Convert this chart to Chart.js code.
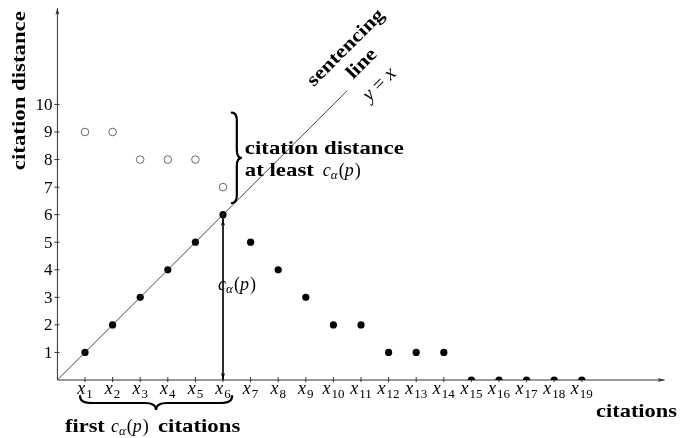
<!DOCTYPE html>
<html><head><meta charset="utf-8">
<script src="https://cdn.jsdelivr.net/npm/chart.js@4"></script>
<style>html,body{margin:0;padding:0;background:#fff}#w{width:680px;height:438px}</style>
</head><body><div id="w"><canvas id="c" width="680" height="438"></canvas></div>
<script>
// ---- data ----
const citationIndex = [1,2,3,4,5,6,7,8,9,10,11,12,13,14,15,16,17,18,19];
const citationDistance = [1,2,3,4,5,6,5,4,3,2,2,1,1,1,0,0,0,0,0];
const earlyIndex = [1,2,3,4,5,6];
const earlyDistance = [9,9,8,8,8,7];
const yTicks = [1,2,3,4,5,6,7,8,9,10];
const yTickLabels = ['1','2','3','4','5','6','7','8','9','10'];
const xTickLabels = ['1','2','3','4','5','6','7','8','9','10','11','12','13','14','15','16','17','18','19'];
const hIndex = 6;            // c_alpha(p)
const sentencingLineEnd = 10.5;

const SERIF = '"Liberation Serif", "DejaVu Serif", serif';

function rich(ctx, x, y, parts, align){
  let w = 0;
  parts.forEach(p => { ctx.font = p[1]; w += ctx.measureText(p[0]).width + (p[3]||0); });
  let cx = align === 'center' ? x - w/2 : align === 'right' ? x - w : x;
  ctx.textAlign = 'left'; ctx.textBaseline = 'alphabetic';
  parts.forEach(p => { ctx.font = p[1]; ctx.fillText(p[0], cx, y + (p[2]||0)); cx += ctx.measureText(p[0]).width + (p[3]||0); });
}
function stretched(ctx, x, y, sx, fn){ ctx.save(); ctx.translate(x,y); ctx.scale(sx,1); fn(); ctx.restore(); }
function calpha(size){
  return [['c','italic '+size+'px '+SERIF,0],['α','italic '+Math.round(size*0.72)+'px '+SERIF,3,1],['(',size+'px '+SERIF,0],['p','italic '+size+'px '+SERIF,0,1],[')',size+'px '+SERIF,0]];
}
function brace(ctx, ax, ay, bx, by, depth){
  const L = Math.hypot(bx-ax, by-ay);
  const ang = Math.atan2(by-ay, bx-ax);
  const h = depth/2, r = Math.min(depth*0.8, L/6);
  ctx.save(); ctx.translate(ax, ay); ctx.rotate(ang);
  ctx.beginPath();
  ctx.moveTo(0,0);
  ctx.quadraticCurveTo(0,h, r,h);
  ctx.lineTo(L/2-r,h);
  ctx.quadraticCurveTo(L/2,h, L/2,2*h);
  ctx.quadraticCurveTo(L/2,h, L/2+r,h);
  ctx.lineTo(L-r,h);
  ctx.quadraticCurveTo(L,h, L,0);
  ctx.lineWidth = 2.2; ctx.strokeStyle = '#000'; ctx.lineCap='round'; ctx.stroke();
  ctx.restore();
}
function arrowHead(ctx, x, y, dir, len, wid){
  ctx.save(); ctx.translate(x,y); ctx.rotate(dir);
  ctx.beginPath(); ctx.moveTo(0,0); ctx.lineTo(-len, -wid/2); ctx.lineTo(-len*0.75,0); ctx.lineTo(-len, wid/2); ctx.closePath();
  ctx.fill(); ctx.restore();
}

const axesPlugin = {
  id: 'axes',
  beforeDatasetsDraw(chart){
    const {ctx, scales:{x, y}} = chart;
    const ox = x.getPixelForValue(0), oy = y.getPixelForValue(0);
    const xr = x.getPixelForValue(x.max), yt = y.getPixelForValue(y.max);
    ctx.save();
    ctx.strokeStyle = '#333'; ctx.fillStyle = '#333'; ctx.lineWidth = 1;
    ctx.beginPath(); ctx.moveTo(ox, oy); ctx.lineTo(xr, oy); ctx.moveTo(ox, oy); ctx.lineTo(ox, yt); ctx.stroke();
    arrowHead(ctx, xr, oy, 0, 7, 4);
    arrowHead(ctx, ox, yt, -Math.PI/2, 7, 4);
    ctx.beginPath();
    citationIndex.forEach(v => { const px = x.getPixelForValue(v); ctx.moveTo(px, oy-3); ctx.lineTo(px, oy+2); });
    yTicks.forEach(v => { const py = y.getPixelForValue(v); ctx.moveTo(ox-3, py); ctx.lineTo(ox+2, py); });
    ctx.stroke();
    ctx.fillStyle = '#000';
    yTicks.forEach((v,i) => { ctx.font = '17px '+SERIF; ctx.textAlign='right'; ctx.textBaseline='middle'; ctx.fillText(yTickLabels[i], ox-5, y.getPixelForValue(v)+1); });
    citationIndex.forEach((v,i) => rich(ctx, x.getPixelForValue(v), oy+14, [['x','italic 18px '+SERIF,0,1],[xTickLabels[i],'13px '+SERIF,4]], 'center'));
    ctx.restore();
  },
  afterDatasetsDraw(chart){
    const {ctx, scales:{x, y}} = chart;
    const ox = x.getPixelForValue(0), oy = y.getPixelForValue(0);
    ctx.save(); ctx.fillStyle = '#000';
    const hx = x.getPixelForValue(hIndex);
    arrowHead(ctx, hx, y.getPixelForValue(hIndex)+4, -Math.PI/2, 7, 4);
    arrowHead(ctx, hx, oy, Math.PI/2, 7, 4);
    rich(ctx, hx+14, y.getPixelForValue(3)-7, calpha(18), 'center');
    // axis titles
    ctx.save(); ctx.translate(25, y.getPixelForValue(10.5)); ctx.rotate(-Math.PI/2); ctx.scale(1.2,1);
    ctx.font = 'bold 19px '+SERIF; ctx.textAlign='center'; ctx.textBaseline='alphabetic'; ctx.fillText('citation distance', 0, 0); ctx.restore();
    stretched(ctx, 677, oy+37, 1.18, () => { ctx.font='bold 19px '+SERIF; ctx.textAlign='right'; ctx.fillText('citations',0,0); });
    // bottom brace + text
    brace(ctx, x.getPixelForValue(0.82), oy+16, x.getPixelForValue(6.33), oy+16, 14);
    stretched(ctx, 65, oy+52, 1.18, () => { ctx.font='bold 19px '+SERIF; ctx.textAlign='left'; ctx.fillText('first',0,0); });
    rich(ctx, 111, oy+52, calpha(18), 'left');
    stretched(ctx, 158, oy+52, 1.2, () => { ctx.font='bold 19px '+SERIF; ctx.textAlign='left'; ctx.fillText('citations',0,0); });
    // right brace + text
    const bx = x.getPixelForValue(6.32);
    brace(ctx, bx, y.getPixelForValue(6.42), bx, y.getPixelForValue(9.7), 10);
    stretched(ctx, bx+13, y.getPixelForValue(8.24)+1, 1.2, () => { ctx.font='bold 19px '+SERIF; ctx.textAlign='left'; ctx.fillText('citation distance',0,0); });
    stretched(ctx, bx+13, y.getPixelForValue(7.44)+1, 1.2, () => { ctx.font='bold 19px '+SERIF; ctx.textAlign='left'; ctx.fillText('at least',0,0); });
    rich(ctx, bx+91, y.getPixelForValue(7.44)+1, calpha(18), 'left');
    // rotated sentencing line labels
    const rot = (cx, cy, fn) => { ctx.save(); ctx.translate(cx, cy); ctx.rotate(-Math.PI/4); fn(); ctx.restore(); };
    rot(346, 48, () => { ctx.scale(1.18,1); ctx.font='bold 19px '+SERIF; ctx.textAlign='center'; ctx.textBaseline='middle'; ctx.fillText('sentencing',0,0); });
    rot(362, 64, () => { ctx.scale(1.18,1); ctx.font='bold 19px '+SERIF; ctx.textAlign='center'; ctx.textBaseline='middle'; ctx.fillText('line',0,0); });
    rot(379, 84, () => { rich(ctx, 0, 6, [['y','italic 20px '+SERIF,0,5],['=','20px '+SERIF,0,5],['x','italic 20px '+SERIF,0]], 'center'); });
    ctx.restore();
  }
};

new Chart(document.getElementById('c'), {
  type: 'scatter',
  data: {
    datasets: [
      { type:'line', data:[{x:0,y:0},{x:sentencingLineEnd,y:sentencingLineEnd}], borderColor:'#333', borderWidth:0.9, pointRadius:0, fill:false },
      { type:'line', data:[{x:hIndex,y:hIndex},{x:hIndex,y:0}], borderColor:'#111', borderWidth:1, pointRadius:0, fill:false },
      { data: citationIndex.map((v,i)=>({x:v,y:citationDistance[i]})), backgroundColor:'#000', borderColor:'#000', pointRadius:3.6, borderWidth:0 },
      { data: earlyIndex.map((v,i)=>({x:v,y:earlyDistance[i]})), backgroundColor:'#fff', borderColor:'#444', pointRadius:3.8, borderWidth:0.8 }
    ]
  },
  options: {
    responsive:false, animation:false, devicePixelRatio:1,
    layout:{ padding:{ left:57.4, right:15.4, top:8, bottom:58 } },
    plugins:{ legend:{display:false}, tooltip:{enabled:false} },
    scales:{
      x:{ type:'linear', min:0, max:22, display:false },
      y:{ type:'linear', min:0, max:13.5, display:false }
    }
  },
  plugins:[axesPlugin]
});
</script></body></html>
